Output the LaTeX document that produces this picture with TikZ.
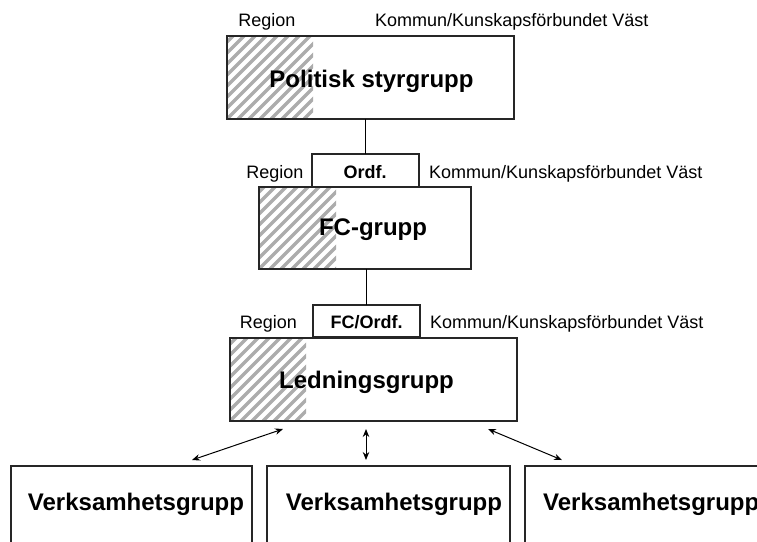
\documentclass[tikz,border=0pt]{standalone}
\usepackage{fontspec}
\setmainfont{Liberation Sans}
\usetikzlibrary{arrows.meta}
\begin{document}
\begin{tikzpicture}[x=1pt,y=-1pt,
  box/.style={draw=black!85, line width=1.3pt, fill=white, inner sep=0pt, outer sep=0pt, anchor=north west},
  hatch/.style={path picture={
      \begin{scope}
        \clip (path picture bounding box.north west) rectangle ([xshift=#1]path picture bounding box.south west);
        \foreach \i in {-14,...,12}
          \draw[gray!65, line width=3.2pt] ([xshift=\i*11pt]path picture bounding box.south west) -- ++(130,-130);
      \end{scope}}},
  big/.style={font=\fontsize{24}{28}\selectfont\bfseries, anchor=base, inner sep=0pt},
  small/.style={font=\fontsize{18}{21}\selectfont, anchor=base, inner sep=0pt},
  smallb/.style={font=\fontsize{18}{21}\selectfont\bfseries, anchor=base, inner sep=0pt},
  conn/.style={draw=black, line width=0.9pt},
  dbl/.style={draw=black, line width=1pt, {Stealth[length=8pt,width=6.5pt]}-{Stealth[length=8pt,width=6.5pt]}}
]
\useasboundingbox (0,0) rectangle (757,541);
\path[clip] (0,0) rectangle (757,541);

% Politisk styrgrupp
\node[box, hatch=86pt, minimum width=287pt, minimum height=83pt] (ps) at (227,36) {};
\node[big] (pst) at (371.5,87) {Politisk styrgrupp};
\node[small] (r1) at (267,26) {Region};
\node[small, anchor=base west] (k1) at (375,26) {Kommun/Kunskapsförbundet Väst};

% FC-grupp
\node[box, hatch=77pt, minimum width=212pt, minimum height=82pt] (fc) at (259,187) {};
\node[box, minimum width=107pt, minimum height=33pt] (ordf) at (312,154) {};
\node[smallb] (ordft) at (365,178) {Ordf.};
\node[big] (fct) at (373,235) {FC-grupp};
\node[small] (r2) at (275,178) {Region};
\node[small, anchor=base west] (k2) at (429,178) {Kommun/Kunskapsförbundet Väst};

% Ledningsgrupp
\node[box, hatch=76pt, minimum width=287pt, minimum height=83pt] (lg) at (230,338) {};
\node[box, minimum width=107pt, minimum height=32pt] (fco) at (313,305) {};
\node[smallb] (fcot) at (366.5,328) {FC/Ordf.};
\node[big] (lgt) at (366.5,388) {Ledningsgrupp};
\node[small] (r3) at (268.5,328) {Region};
\node[small, anchor=base west] (k3) at (430,328) {Kommun/Kunskapsförbundet Väst};

% connectors
\draw[conn] (ordf.north) -- (ordf.north |- ps.south);
\draw[conn] (fco.north) -- (fco.north |- fc.south);

% Verksamhetsgrupper
\node[box, minimum width=241pt, minimum height=120pt] (v1) at (11,466) {};
\node[box, minimum width=243pt, minimum height=120pt] (v2) at (267,466) {};
\node[box, minimum width=260pt, minimum height=120pt] (v3) at (525,466) {};
\node[big] (v1t) at (136,510) {Verksamhetsgrupp};
\node[big] (v2t) at (394,510) {Verksamhetsgrupp};
\node[big, anchor=base west] (v3t) at (543,510) {Verksamhetsgrupp};

% arrows
\coordinate (a1s) at (283,429);
\coordinate (a1e) at (192,460);
\coordinate (a2s) at (366,429);
\coordinate (a2e) at (366,460);
\coordinate (a3s) at (488,429);
\coordinate (a3e) at (562,460);
\draw[dbl] (a1s) -- (a1e);
\draw[dbl] (a2s) -- (a2e);
\draw[dbl] (a3s) -- (a3e);
\end{tikzpicture}
\end{document}
